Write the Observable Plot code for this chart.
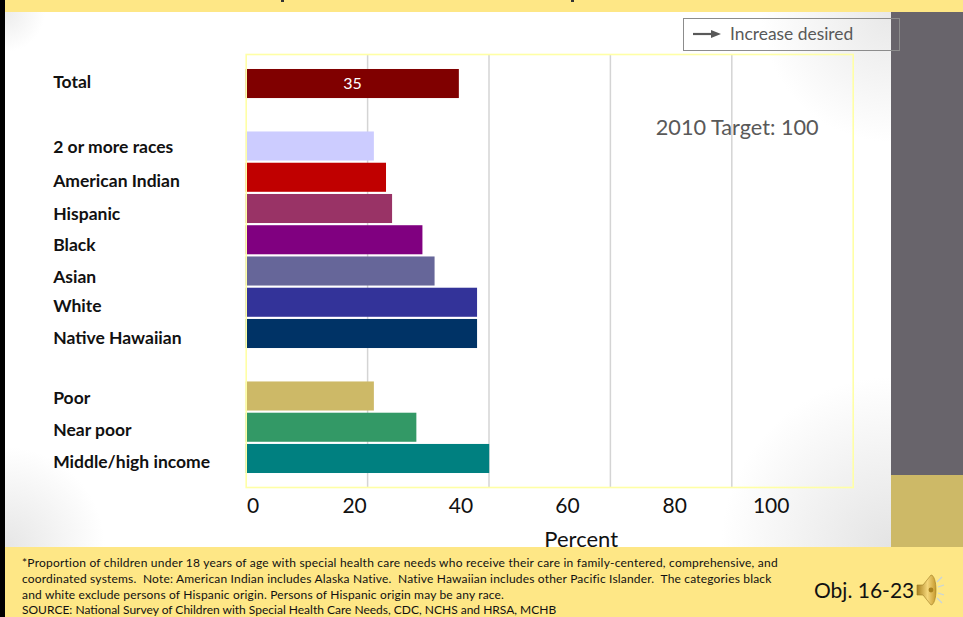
<!DOCTYPE html>
<html>
<head>
<meta charset="utf-8">
<script src="https://cdn.jsdelivr.net/npm/d3@7"></script>
<script src="https://cdn.jsdelivr.net/npm/@observablehq/plot@0.6"></script>
<style>
  html, body { margin: 0; padding: 0; background: #fff; }
  #slide { position: relative; width: 963px; height: 617px; overflow: hidden; font-family: Lato, sans-serif; }
  #slide > div, #slide > svg { position: absolute; }
  .note { left: 22px; font-size: 12px; line-height: 15px; color: #111; white-space: pre; }
</style>
</head>
<body>
<div id="slide">
  <div style="left:5px;top:12px;width:886px;height:535px;background:
    radial-gradient(circle 40px at 0 0, #ececec, rgba(255,255,255,0)),
    radial-gradient(circle 100px at 0 100%, #e6e6e6, rgba(255,255,255,0)),
    radial-gradient(circle 130px at 100% 0, #e8e8e8, rgba(255,255,255,0)),
    radial-gradient(circle 170px at 100% 100%, #e4e4e4, rgba(255,255,255,0)),
    #fff;"></div>
  <div style="left:0;top:0;width:5px;height:617px;background:#000;"></div>
  <div style="left:5px;top:0;width:958px;height:12px;background:#fee786;"></div>
  <div style="left:281px;top:0;width:3px;height:1.5px;background:#333;"></div>
  <div style="left:571px;top:0;width:3px;height:1.5px;background:#333;"></div>
  <div style="left:891px;top:12px;width:72px;height:463px;background:#68646b;"></div>
  <div style="left:891px;top:475px;width:72px;height:72px;background:#cdb967;"></div>
  <div style="left:5px;top:547px;width:958px;height:70px;background:#fee786;"></div>

  <div id="chart" style="left:0;top:0;"></div>

  <div style="left:683px;top:18px;width:215px;height:31px;border:1px solid #8c8c8c;"></div>
  <svg style="left:692px;top:28px;" width="32" height="12" viewBox="0 0 32 12">
    <path d="M1 6H20" stroke="#595959" stroke-width="2.2"/>
    <path d="M19 2L29 6L19 10Z" fill="#595959"/>
  </svg>
  <div style="left:730px;top:23px;font-size:17.4px;line-height:22px;color:#595959;">Increase desired</div>

  <div class="note" style="top:555px;letter-spacing:.22px;">*Proportion of children under 18 years of age with special health care needs who receive their care in family-centered, comprehensive, and</div>
  <div class="note" style="top:571px;letter-spacing:.18px;">coordinated systems.  Note: American Indian includes Alaska Native.  Native Hawaiian includes other Pacific Islander.  The categories black</div>
  <div class="note" style="top:587px;letter-spacing:.17px;">and white exclude persons of Hispanic origin. Persons of Hispanic origin may be any race.</div>
  <div class="note" style="top:602px;">SOURCE: National Survey of Children with Special Health Care Needs, CDC, NCHS and HRSA, MCHB</div>
  <div style="left:814px;top:577px;font-size:21px;line-height:26px;color:#111;white-space:nowrap;">Obj. 16-23</div>

  <svg style="left:916px;top:573px;" width="30" height="34" viewBox="0 0 30 34">
    <defs>
      <linearGradient id="horn" x1="0" y1="0" x2="1" y2="0">
        <stop offset="0" stop-color="#a8811f"/>
        <stop offset="0.55" stop-color="#f4d67a"/>
        <stop offset="1" stop-color="#c79a2e"/>
      </linearGradient>
    </defs>
    <path d="M1 12H7L15 2C18 2 20 9 20 17C20 25 18 32 15 32L7 22H1Z" fill="url(#horn)" stroke="#9c7a22" stroke-width="0.6"/>
    <circle cx="15" cy="17" r="2.4" fill="#a8811f"/>
    <path d="M21 9L26 4M22 14L28 12M22 20L28 22M21 25L26 30" stroke="#c6d3dd" stroke-width="1.2" fill="none"/>
  </svg>
</div>

<script>
// Share of children with special health care needs receiving coordinated care
const rowOrder = ["Total", " ", "2 or more races", "American Indian", "Hispanic", "Black", "Asian",
  "White", "Native Hawaiian", "  ", "Poor", "Near poor", "Middle/high income"];
const categories = ["Total", "2 or more races", "American Indian", "Hispanic", "Black", "Asian",
  "White", "Native Hawaiian", "Poor", "Near poor", "Middle/high income"];
const percents = [35, 21, 23, 24, 29, 31, 38, 38, 21, 28, 40];
const barColors = ["#800000", "#ccccff", "#c00000", "#993366", "#800080", "#666699",
  "#333399", "#003366", "#cdb967", "#339966", "#008080"];
const gridValues = [20, 40, 60, 80];
const tickValues = [0, 20, 40, 60, 80, 100];

const table = categories.map((name, i) => ({name, percent: percents[i], color: barColors[i]}));

// Row labels sit slightly below their bars, by varying amounts
const labelNudge = [-2, 1, 4, 5, 5, 6, 4, 4, 2, 3, 3];
const labelMarks = categories.map((name, i) =>
  Plot.text([name], {
    y: d => d,
    frameAnchor: "left",
    dx: -193,
    dy: labelNudge[i],
    textAnchor: "start",
    fontWeight: 700,
    fontSize: 17.5,
    fill: "#111"
  }));

// Axis numbers drift left of their gridlines, so each is placed on its own
const tickNudge = [7, -13, -28, -43, -57, -82];
const tickMarks = tickValues.map((v, i) =>
  Plot.text([v], {
    x: d => d,
    frameAnchor: "bottom",
    dx: tickNudge[i],
    dy: 19,
    lineAnchor: "middle",
    fontSize: 21,
    fill: "#111"
  }));

const chart = Plot.plot({
  width: 963,
  height: 617,
  marginLeft: 245.7,
  marginRight: 110.3,
  marginTop: 54,
  marginBottom: 130,
  style: {background: "transparent", fontFamily: "Lato, sans-serif"},
  x: {domain: [0, 100], axis: null},
  y: {domain: rowOrder, range: [66.8, 475.2], padding: 0.07, round: false, axis: null},
  marks: [
    Plot.ruleX(gridValues, {stroke: "#d4d4d4", strokeWidth: 1.5}),
    Plot.barX(table, {x1: 0, x2: "percent", y: "name", fill: "color", insetRight: -0.7}),
    Plot.frame({stroke: "#ffffa6", strokeWidth: 1.6}),
    Plot.text(["35"], {x: 17.5, y: ["Total"], fill: "#fff", fontSize: 16}),
    Plot.text(["2010 Target: 100"], {frameAnchor: "top", dx: 187.5, dy: 74, lineAnchor: "middle", fontSize: 21.7, fill: "#595959"}),
    Plot.text(["Percent"], {frameAnchor: "bottom", dx: 31.5, dy: 52, lineAnchor: "middle", fontSize: 22, fill: "#111"}),
    ...labelMarks,
    ...tickMarks
  ]
});
document.getElementById("chart").append(chart);
</script>
</body>
</html>
